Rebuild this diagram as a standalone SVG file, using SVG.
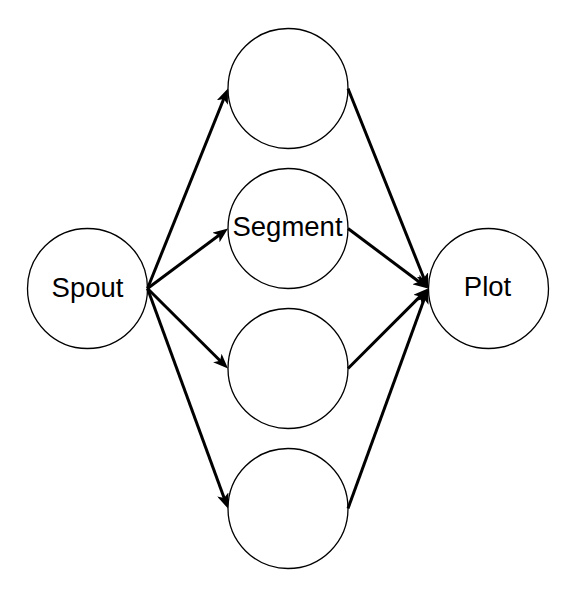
<svg xmlns="http://www.w3.org/2000/svg" width="578" height="602" viewBox="0 0 578 602">
<style>
.node{fill:#fff;stroke:#000;stroke-width:1.3}
.lbl{font-family:"Liberation Sans",Arial,sans-serif;font-size:27.5px;fill:#000;text-anchor:middle}
.edge{stroke:#000;stroke-width:3;fill:none;marker-end:url(#arr)}
</style>
<defs>
<marker id="arr" viewBox="0 0 15 12" refX="5" refY="6" markerWidth="15" markerHeight="12" markerUnits="userSpaceOnUse" orient="auto">
<path d="M0,0 L15,6 L0,12 L3.8,6 Z" fill="#000"/>
</marker>
</defs>
<rect width="578" height="602" fill="#fff"/>
<g id="spout"><circle class="node" cx="87.5" cy="288.5" r="60"/><text class="lbl" x="87.5" y="296.5">Spout</text></g>
<g id="seg1"><circle class="node" cx="288" cy="88.5" r="60"/></g>
<g id="seg2"><circle class="node" cx="288" cy="228.5" r="60"/><text class="lbl" x="287.5" y="236">Segment</text></g>
<g id="seg3"><circle class="node" cx="288" cy="368.5" r="60"/></g>
<g id="seg4"><circle class="node" cx="288" cy="508.5" r="60"/></g>
<g id="plot"><circle class="node" cx="488.5" cy="288.5" r="60"/><text class="lbl" x="487.5" y="296">Plot</text></g>
<g id="connectors">
<line class="edge" x1="147.5" y1="288.5" x2="224.2" y2="97.8"/>
<line class="edge" x1="147.5" y1="288.5" x2="220.0" y2="234.5"/>
<line class="edge" x1="147.5" y1="288.5" x2="220.9" y2="361.5"/>
<line class="edge" x1="147.5" y1="288.5" x2="224.5" y2="499.1"/>
<line class="edge" x1="348" y1="88.5" x2="424.3" y2="279.2"/>
<line class="edge" x1="348" y1="228.5" x2="420.0" y2="282.5"/>
<line class="edge" x1="348" y1="368.5" x2="420.9" y2="295.6"/>
<line class="edge" x1="348" y1="508.5" x2="424.6" y2="297.9"/>
</g>
</svg>
